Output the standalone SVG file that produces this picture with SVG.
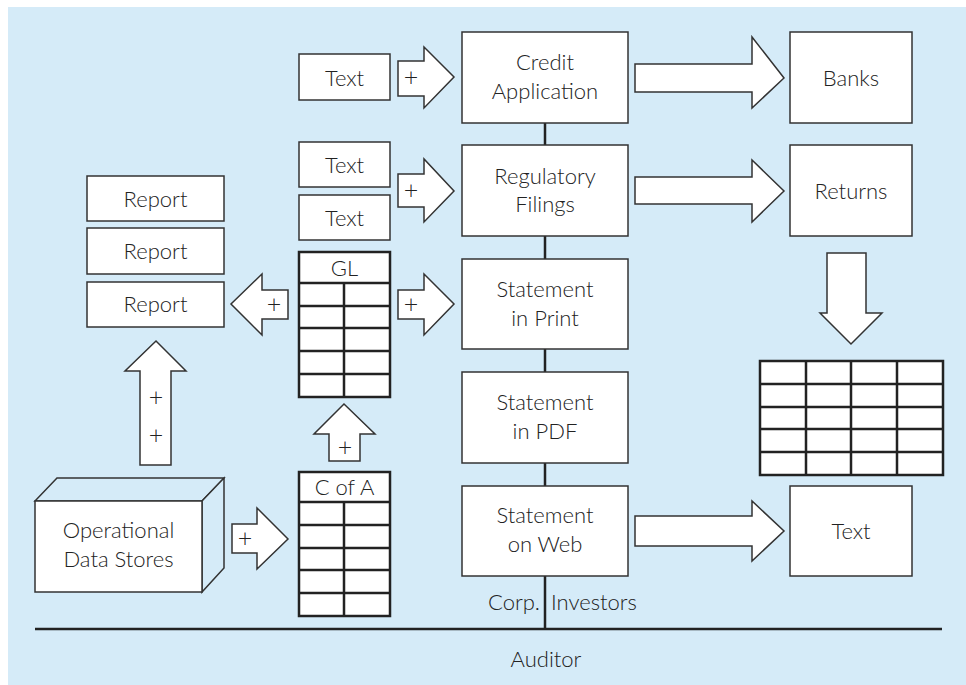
<svg xmlns="http://www.w3.org/2000/svg" width="966" height="685" viewBox="0 0 966 685">
<style>
.bg{fill:#d5ebf8}
.box{fill:#fff;stroke:#333;stroke-width:1.5}
.arr{fill:#fff;stroke:#333;stroke-width:1.5;stroke-linejoin:miter}
.tbl{fill:#fff;stroke:#222;stroke-width:2.5}
.tl{stroke:#222;stroke-width:2.5;fill:none}
.line{stroke:#222;stroke-width:2.5;fill:none}
text{font-family:Lato,"Liberation Sans",sans-serif;font-weight:300;font-size:22px;fill:#222;text-anchor:middle}
.pl{font-size:25px}
.st{text-anchor:start}
.en{text-anchor:end}
</style>
<rect class="bg" x="8" y="7" width="958" height="678"/>
<g id="connectors">
<line class="line" x1="545" y1="123" x2="545" y2="629"/>
<line class="line" x1="35" y1="629" x2="942" y2="629"/>
<path class="arr" d="M398,61 H424 V47 L454,77 L424,108 V96 H398 Z"/>
<text class="pl" x="411" y="86">+</text>
<path class="arr" d="M398,174 H424 V159 L454,191 L424,222 V207 H398 Z"/>
<text class="pl" x="411" y="199">+</text>
<path class="arr" d="M398,290 H424 V274 L454,304 L424,335 V319 H398 Z"/>
<text class="pl" x="411" y="313">+</text>
<path class="arr" d="M288,290 H262 V274 L231,304 L262,335 V319 H288 Z"/>
<text class="pl" x="274" y="313">+</text>
<path class="arr" d="M140,465 V371 H125 L156,341 L186,371 H171 V465 Z"/>
<text class="pl" x="156" y="406">+</text>
<text class="pl" x="156" y="444">+</text>
<path class="arr" d="M329,461 V434 H314 L344,404 L375,434 H360 V461 Z"/>
<text class="pl" x="345" y="456">+</text>
<path class="arr" d="M232,524 H257 V508 L288,539 L257,569 V553 H232 Z"/>
<text class="pl" x="245" y="547">+</text>
<path class="arr" d="M635,64 H752 V37 L784,78 L752,108 V92 H635 Z"/>
<path class="arr" d="M635,177 H752 V160 L784,191 L752,222 V204 H635 Z"/>
<path class="arr" d="M635,516 H752 V501 L784,531 L752,561 V546 H635 Z"/>
<path class="arr" d="M827,253 H866 V313 H882 L851,344 L820,313 H827 Z"/>
</g>
<g id="text1"><rect class="box" x="299" y="54" width="91" height="46"/><text x="344.5" y="86">Text</text></g>
<g id="text2"><rect class="box" x="299" y="142" width="91" height="45"/><text x="344.5" y="173">Text</text></g>
<g id="text3"><rect class="box" x="299" y="195" width="91" height="45"/><text x="344.5" y="226">Text</text></g>
<g id="credit"><rect class="box" x="462" y="32" width="166" height="91"/><text x="545" y="70">Credit</text><text x="545" y="99">Application</text></g>
<g id="regulatory"><rect class="box" x="462" y="145" width="166" height="91"/><text x="545" y="184">Regulatory</text><text x="545" y="212">Filings</text></g>
<g id="print"><rect class="box" x="462" y="259" width="166" height="90"/><text x="545" y="297">Statement</text><text x="545" y="326">in Print</text></g>
<g id="pdf"><rect class="box" x="462" y="372" width="166" height="91"/><text x="545" y="410">Statement</text><text x="545" y="439">in PDF</text></g>
<g id="web"><rect class="box" x="462" y="486" width="166" height="90"/><text x="545" y="523">Statement</text><text x="545" y="552">on Web</text></g>
<g id="banks"><rect class="box" x="790" y="32" width="122" height="91"/><text x="851" y="86">Banks</text></g>
<g id="returns"><rect class="box" x="790" y="145" width="122" height="91"/><text x="851" y="199">Returns</text></g>
<g id="textright"><rect class="box" x="790" y="486" width="122" height="90"/><text x="851" y="539">Text</text></g>
<g id="report1"><rect class="box" x="87" y="176" width="137" height="45"/><text x="155.5" y="207">Report</text></g>
<g id="report2"><rect class="box" x="87" y="228" width="137" height="46"/><text x="155.5" y="259">Report</text></g>
<g id="report3"><rect class="box" x="87" y="282" width="137" height="45"/><text x="155.5" y="312">Report</text></g>
<g id="gl">
<rect class="tbl" x="299" y="252" width="91" height="145"/>
<path class="tl" d="M299,283 H390 M299,306 H390 M299,328 H390 M299,351 H390 M299,374 H390 M344,283 V397"/>
<text x="344.5" y="276">GL</text>
</g>
<g id="cofa">
<rect class="tbl" x="299" y="472" width="91" height="144"/>
<path class="tl" d="M299,502 H390 M299,525 H390 M299,548 H390 M299,570 H390 M299,593 H390 M344,502 V616"/>
<text x="344.5" y="495">C of A</text>
</g>
<g id="table">
<rect class="tbl" x="760" y="361" width="183" height="114"/>
<path class="tl" d="M760,384 H943 M760,407 H943 M760,429 H943 M760,452 H943 M806,361 V475 M851,361 V475 M897,361 V475"/>
</g>
<g id="ods">
<path d="M35,501 L57,478 H224 L202,501 Z" fill="#d5ebf8" stroke="#333" stroke-width="1.5"/>
<path d="M202,501 L224,478 V568 L202,592 Z" fill="#d5ebf8" stroke="#333" stroke-width="1.5"/>
<rect class="box" x="35" y="501" width="167" height="91"/>
<text x="118.5" y="538">Operational</text>
<text x="118.5" y="567">Data Stores</text>
</g>
<g id="labels">
<text class="en" x="540" y="610">Corp.</text>
<text class="st" x="551" y="610">Investors</text>
<text x="546" y="667">Auditor</text>
</g>
</svg>
